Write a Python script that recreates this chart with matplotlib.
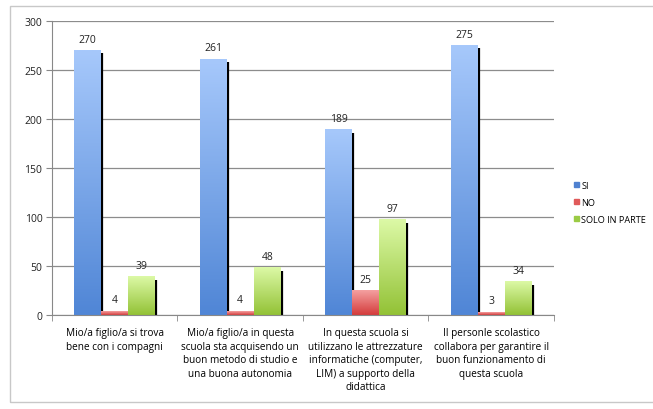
import numpy as np
import matplotlib
matplotlib.use('Agg')
import matplotlib.pyplot as plt
from matplotlib.patches import Rectangle
from matplotlib.colors import LinearSegmentedColormap

categorie = [
    'Mio/a figlio/a si trova\nbene con i compagni',
    'Mio/a figlio/a in questa\nscuola sta acquisendo un\nbuon metodo di studio e\nuna buona autonomia',
    'In questa scuola si\nutilizzano le attrezzature\ninformatiche (computer,\nLIM) a supporto della\ndidattica',
    'Il personle scolastico\ncollabora per garantire il\nbuon funzionamento di\nquesta scuola',
]
serie_nomi = ['SI', 'NO', 'SOLO IN PARTE']
si = [270, 261, 189, 275]
no = [4, 4, 25, 3]
solo_in_parte = [39, 48, 97, 34]

colori = [('#a6c8fb', '#5086d6'), ('#f4a0a0', '#d43c3c'), ('#dcf9a6', '#93c236')]
legend_colori = ['#4f81d0', '#e05a5a', '#9bcb45']


def main():
    plt.rcParams['font.family'] = ['Open Sans', 'DejaVu Sans']
    fig = plt.figure(figsize=(6.53, 4.10), dpi=100)
    fig.patches.append(Rectangle((10 / 653, 7 / 410), 660 / 653, 396 / 410,
                                 transform=fig.transFigure, fill=False,
                                 edgecolor='#c8c8c8', linewidth=1))
    ax = fig.add_axes([52 / 653, 1 - 316 / 410, 502 / 653, 294 / 410])

    x = np.arange(len(categorie))
    w = 0.215
    valori = [si, no, solo_in_parte]
    grad = np.linspace(0, 1, 100).reshape(-1, 1)
    for i, (nome, vals) in enumerate(zip(serie_nomi, valori)):
        pos = x + (i - 1) * w
        bars = ax.bar(pos, vals, w, color='none', edgecolor='none', label=nome)
        cmap = LinearSegmentedColormap.from_list(nome, [colori[i][1], colori[i][0]])
        for b, v in zip(bars, vals):
            bx, bw, bh = b.get_x(), b.get_width(), b.get_height()
            ax.imshow(grad, extent=[bx, bx + bw, 0, bh], origin='lower',
                      aspect='auto', cmap=cmap, zorder=2)
            # ombra
            ax.plot([bx + bw + 0.008, bx + bw + 0.008], [0, bh - 3],
                    color='black', linewidth=1.6, zorder=1.9,
                    solid_capstyle='butt')
            ax.text(b.get_x() + bw / 2, bh + 6, str(v), ha='center',
                    va='bottom', fontsize=7.5, color='#222222')

    ax.set_xlim(-0.5, len(categorie) - 0.5)
    ax.set_ylim(0, 300)
    ax.set_yticks(range(0, 301, 50))
    ax.tick_params(axis='y', labelsize=7.5, length=4, color='#888888',
                   pad=3, colors='#222222')
    ax.set_xticks(x)
    ax.set_xticklabels(categorie, fontsize=7.2, linespacing=1.3)
    ax.tick_params(axis='x', length=0, pad=9)
    ax.set_xticks(np.arange(-0.5, len(categorie)), minor=True)
    ax.tick_params(axis='x', which='minor', length=4, color='#888888')
    ax.grid(axis='y', color='#8c8c8c', linewidth=0.9)
    ax.set_axisbelow(True)
    for s in ['top', 'right']:
        ax.spines[s].set_visible(False)
    ax.spines['left'].set_color('#888888')
    ax.spines['bottom'].set_color('#888888')

    handles = [Rectangle((0, 0), 1, 1, color=c) for c in legend_colori]
    fig.legend(handles, serie_nomi, loc='upper left',
               bbox_to_anchor=(574 / 653, 1 - 182 / 410), frameon=False,
               borderpad=0, borderaxespad=0,
               fontsize=6.6, handlelength=0.5, handleheight=0.5,
               handletextpad=0.3, labelspacing=0.85)
    fig.savefig('out.png', dpi=100)


if __name__ == "__main__":
    main()
